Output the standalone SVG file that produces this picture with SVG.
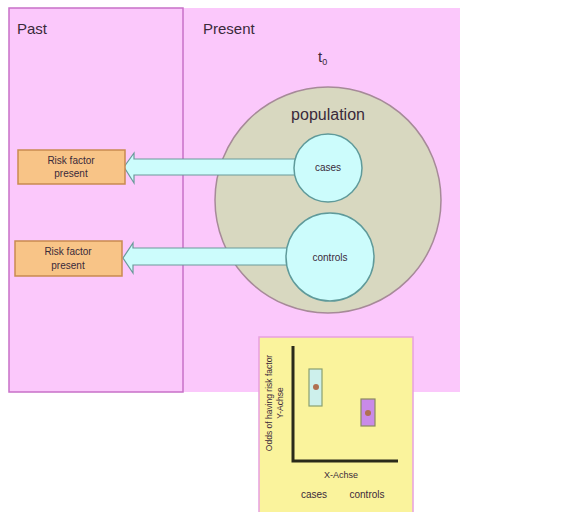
<svg xmlns="http://www.w3.org/2000/svg" width="567" height="512" viewBox="0 0 567 512">
<style>
text{font-family:"Liberation Sans",Arial,sans-serif;fill:#3a2a3a}
.lbl{font-size:10px}
.head{font-size:15px}
.cyan{fill:#ccfcfc;stroke:#5f9a9a;stroke-width:1.5}
.box{fill:#f8c487;stroke:#c98a50;stroke-width:1.5}
.arrow{fill:#ccfcfc;stroke:#6a9a9a;stroke-width:1.2}
</style>
<rect width="567" height="512" fill="#ffffff"/>
<g id="present">
<rect x="9" y="8" width="451" height="384" fill="#fbc8fb"/>
<text class="head" x="203" y="34">Present</text>
<text class="head" x="318" y="62">t<tspan font-size="9" dy="3">0</tspan></text>
</g>
<g id="past">
<rect x="9" y="8" width="174" height="384" fill="#fbc8fb" stroke="#c870c8" stroke-width="1.5"/>
<text class="head" x="17" y="34">Past</text>
</g>
<g id="population">
<circle cx="328" cy="200" r="113" fill="#d8d8c0" stroke="#a68a98" stroke-width="1.5"/>
<text x="328" y="120" font-size="16" text-anchor="middle">population</text>
</g>
<g id="connectors">
<path class="arrow" d="M300,159 L134,159 L134,153 L124,167 L134,183 L134,175 L300,175 Z"/>
<path class="arrow" d="M290,248 L133,248 L133,243 L123,258 L133,273 L133,265 L290,265 Z"/>
</g>
<g id="cases">
<circle class="cyan" cx="328" cy="168" r="34"/>
<text class="lbl" x="328" y="171" text-anchor="middle">cases</text>
</g>
<g id="controls">
<circle class="cyan" cx="330" cy="257" r="44"/>
<text class="lbl" x="330" y="261" font-size="11" text-anchor="middle">controls</text>
</g>
<g id="risk1">
<rect class="box" x="18" y="150" width="107" height="34"/>
<text class="lbl" x="71" y="164" text-anchor="middle">Risk factor</text>
<text class="lbl" x="71" y="177" text-anchor="middle">present</text>
</g>
<g id="risk2">
<rect class="box" x="15" y="241" width="107" height="35"/>
<text class="lbl" x="68" y="255" text-anchor="middle">Risk factor</text>
<text class="lbl" x="68" y="269" text-anchor="middle">present</text>
</g>
<g id="chart">
<rect x="259" y="337" width="154" height="180" fill="#faf39c" stroke="#e8a0e0" stroke-width="1.5"/>
<path d="M293,346 V461 H398" fill="none" stroke="#2a2a1a" stroke-width="3"/>
<rect x="309" y="369" width="13" height="37" fill="#cdf0ec" stroke="#8aa070" stroke-width="1.2"/>
<circle cx="316" cy="387" r="3" fill="#b07050"/>
<rect x="361" y="399" width="14" height="27" fill="#c98ae8" stroke="#8a8a60" stroke-width="1.2"/>
<circle cx="368" cy="413" r="3" fill="#b07050"/>
<g transform="translate(272,403) rotate(-90)">
<text font-size="8.5" text-anchor="middle" x="0" y="0">Odds of having risk factor</text>
<text font-size="8.5" text-anchor="middle" x="0" y="11">Y-Achse</text>
</g>
<text font-size="9" x="341" y="478" text-anchor="middle">X-Achse</text>
<text font-size="10" x="314" y="498" text-anchor="middle">cases</text>
<text font-size="10" x="367" y="498" text-anchor="middle">controls</text>
</g>
</svg>
